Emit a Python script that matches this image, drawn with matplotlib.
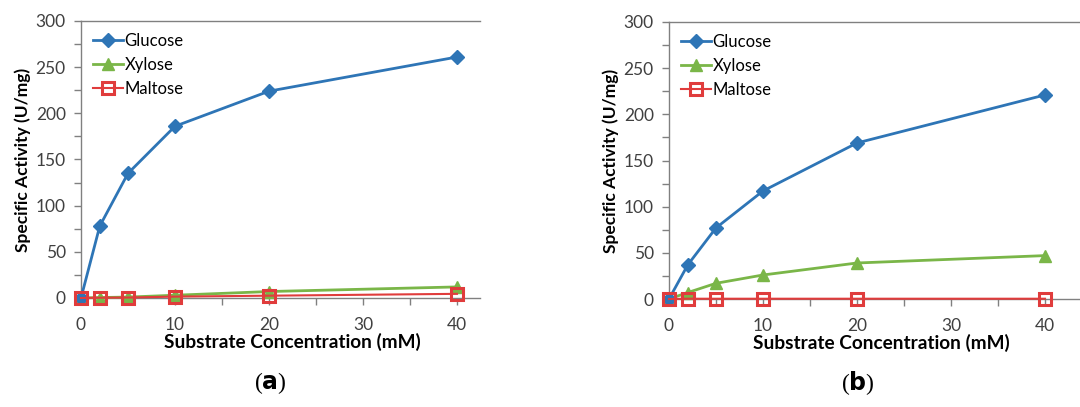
import matplotlib
matplotlib.use("Agg")
import matplotlib.pyplot as plt
from matplotlib.ticker import MultipleLocator

conc = [0, 2, 5, 10, 20, 40]

glucose_a = [0, 78, 135, 186, 224, 261]
xylose_a = [0, 0.5, 1, 3, 7, 12]
maltose_a = [0, 0.3, 0.5, 1.5, 2.5, 4.5]

glucose_b = [0, 37, 77, 117, 169, 221]
xylose_b = [0, 7, 17, 26, 39, 47]
maltose_b = [0, 0.3, 0.3, 0.3, 0.3, 0.3]

panel_labels = ["a", "b"]
series_names = ["Glucose", "Xylose", "Maltose"]

plt.rcParams['font.family'] = ['Lato', 'DejaVu Sans']

fig = plt.figure(figsize=(10.8, 4.07), dpi=100)

blue = "#2E75B6"
green = "#7AB648"
red = "#E03C3C"

def draw(ax, g, x, m, xmax, xlab_pos):
    ax.plot(conc, g, color=blue, lw=2, marker="D", ms=7, mfc=blue, mec=blue,
            label=series_names[0], clip_on=False, zorder=4)
    ax.plot(conc, x, color=green, lw=2, marker="^", ms=8, mfc=green, mec=green,
            label=series_names[1], clip_on=False, zorder=3)
    ax.plot(conc, m, color=red, lw=1.5, marker="s", ms=8.5, mfc="none", mec=red, mew=2.2,
            label=series_names[2], clip_on=False, zorder=5)
    ax.set_xlim(0, xmax)
    ax.set_ylim(0, 300)
    ax.xaxis.set_major_locator(MultipleLocator(10))
    ax.xaxis.set_minor_locator(MultipleLocator(5))
    ax.yaxis.set_major_locator(MultipleLocator(50))
    ax.yaxis.set_minor_locator(MultipleLocator(25))
    ax.spines['right'].set_visible(False)
    for s in ['left', 'bottom', 'top']:
        ax.spines[s].set_color("#808080")
        ax.spines[s].set_linewidth(1.0)
    ax.tick_params(which='both', direction='out', color="#808080", width=1,
                   labelsize=12.5, labelcolor="#404040")
    ax.tick_params(which='major', length=5)
    ax.tick_params(which='minor', length=5)
    ax.tick_params(axis='x', which='major', pad=9)
    ax.tick_params(axis='y', which='major', pad=6)
    ax.set_xlabel("Substrate Concentration (mM)", fontsize=13.7, fontweight='bold', labelpad=-2)
    ax.xaxis.set_label_coords(xlab_pos, -0.125)
    ax.set_ylabel("Specific Activity (U/mg)", fontsize=12.5, fontweight='bold', labelpad=3)
    ax.legend(loc="upper left", frameon=False, fontsize=12, handlelength=1.8,
              handletextpad=0.1, labelspacing=0.5, borderaxespad=0.3,
              bbox_to_anchor=(0.0, 1.0))

ax1 = fig.add_axes([81/1080, 1-298/407, (480-81)/1080, (298-21)/407])
draw(ax1, glucose_a, xylose_a, maltose_a, 40 + (480-457)/9.4, 0.529)
ax2 = fig.add_axes([669/1080, 1-299/407, (1080-669)/1080, (299-22)/407])
draw(ax2, glucose_b, xylose_b, maltose_b, 40 + (1080-1045)/9.4, 0.516)

for xc, lab in zip([270/1080, 858/1080], panel_labels):
    fig.text(xc, 1-383/407, "(" + r"$\mathbf{" + lab + "}$" + ")", ha="center", va="center",
             fontsize=17, family="Liberation Serif")

fig.savefig("out.png", dpi=100)
